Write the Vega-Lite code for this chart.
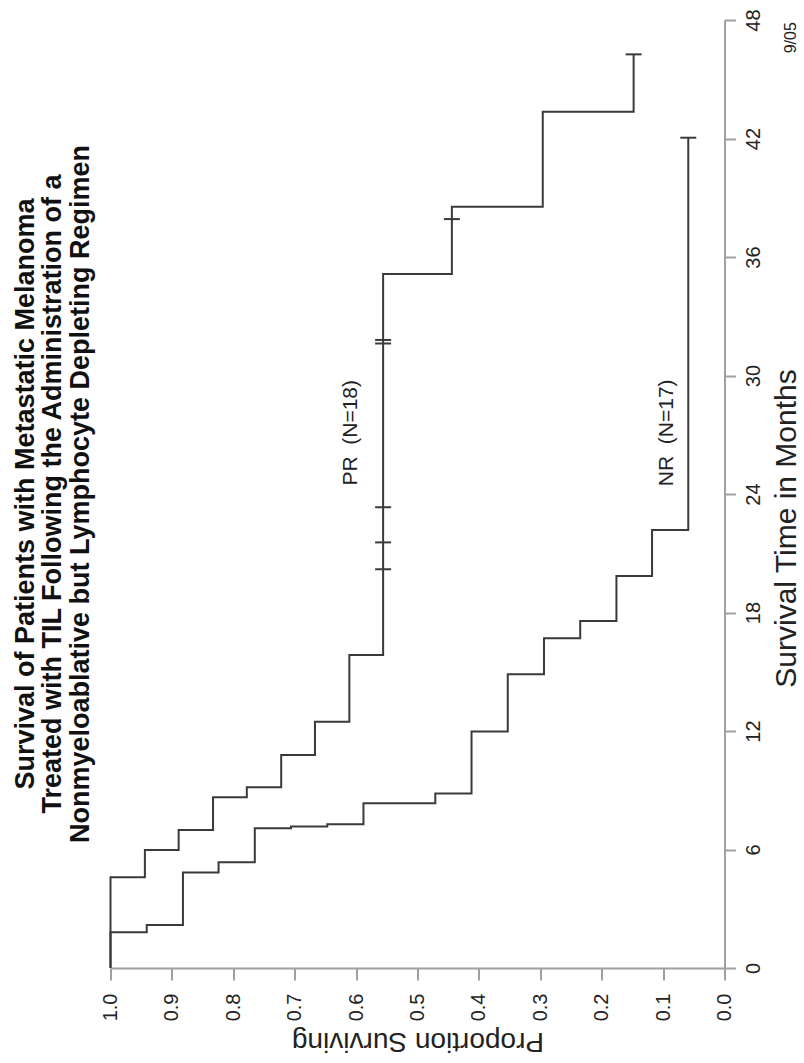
{
  "$schema": "https://vega.github.io/schema/vega-lite/v6.json",
  "width": 614,
  "height": 948,
  "autosize": {"type": "none"},
  "padding": {"left": 110.5, "top": 20, "right": 79.5, "bottom": 95},
  "background": "white",
  "config": {
    "view": {"stroke": null},
    "font": "Liberation Sans",
    "axis": {"grid": false}
  },
  "title": {
    "text": [
      "Survival of Patients with Metastatic Melanoma",
      "Treated with TIL Following the Administration of a",
      "Nonmyeloablative but Lymphocyte Depleting Regimen"
    ],
    "orient": "left",
    "anchor": "middle",
    "font": "Liberation Sans",
    "fontWeight": "bold",
    "fontSize": 27,
    "lineHeight": 27.5,
    "color": "#111111",
    "offset": 6
  },
  "datasets": {
    "curves": [
      {"group": "PR", "time": 0, "surv": 1.0},
      {"group": "PR", "time": 4.59, "surv": 0.944},
      {"group": "PR", "time": 5.97, "surv": 0.889},
      {"group": "PR", "time": 6.99, "surv": 0.833},
      {"group": "PR", "time": 8.64, "surv": 0.778},
      {"group": "PR", "time": 9.15, "surv": 0.722},
      {"group": "PR", "time": 10.78, "surv": 0.667},
      {"group": "PR", "time": 12.47, "surv": 0.611},
      {"group": "PR", "time": 15.85, "surv": 0.556},
      {"group": "PR", "time": 35.14, "surv": 0.444},
      {"group": "PR", "time": 38.55, "surv": 0.296},
      {"group": "PR", "time": 43.36, "surv": 0.148},
      {"group": "PR", "time": 46.26, "surv": 0.148},
      {"group": "NR", "time": 0, "surv": 1.0},
      {"group": "NR", "time": 1.81, "surv": 0.941},
      {"group": "NR", "time": 2.18, "surv": 0.882},
      {"group": "NR", "time": 4.84, "surv": 0.824},
      {"group": "NR", "time": 5.35, "surv": 0.765},
      {"group": "NR", "time": 7.07, "surv": 0.706},
      {"group": "NR", "time": 7.16, "surv": 0.647},
      {"group": "NR", "time": 7.28, "surv": 0.588},
      {"group": "NR", "time": 8.34, "surv": 0.471},
      {"group": "NR", "time": 8.84, "surv": 0.412},
      {"group": "NR", "time": 11.97, "surv": 0.353},
      {"group": "NR", "time": 14.87, "surv": 0.294},
      {"group": "NR", "time": 16.69, "surv": 0.235},
      {"group": "NR", "time": 17.57, "surv": 0.176},
      {"group": "NR", "time": 19.85, "surv": 0.118},
      {"group": "NR", "time": 22.18, "surv": 0.059},
      {"group": "NR", "time": 42.04, "surv": 0.059}
    ],
    "censor": [
      {"group": "PR", "time": 20.19, "surv": 0.556},
      {"group": "PR", "time": 21.55, "surv": 0.556},
      {"group": "PR", "time": 23.33, "surv": 0.556},
      {"group": "PR", "time": 31.62, "surv": 0.556},
      {"group": "PR", "time": 31.8, "surv": 0.556},
      {"group": "PR", "time": 37.92, "surv": 0.444},
      {"group": "PR", "time": 46.26, "surv": 0.148},
      {"group": "NR", "time": 42.04, "surv": 0.059}
    ],
    "labels": [
      {"label": "PR \u00a0(N=18)", "time": 27.1, "surv": 0.609},
      {"label": "NR \u00a0(N=17)", "time": 27.1, "surv": 0.0935}
    ],
    "note": [
      {"label": "9/05", "time": 47.1, "surv": -0.108}
    ]
  },
  "encoding": {
    "x": {
      "field": "surv",
      "type": "quantitative",
      "scale": {"domain": [0, 1], "reverse": true, "nice": false, "zero": false},
      "axis": {
        "orient": "bottom",
        "title": "Proportion Surviving",
        "values": [0, 0.1, 0.2, 0.3, 0.4, 0.5, 0.6, 0.7, 0.8, 0.9, 1.0],
        "format": ".1f",
        "labelAngle": 270,
        "labelAlign": "right",
        "labelBaseline": "middle",
        "labelPadding": 13,
        "labelFontSize": 20,
        "labelFont": "Liberation Sans",
        "labelColor": "#222222",
        "labelFlush": false,
        "labelOverlap": false,
        "tickSize": 12,
        "tickWidth": 2,
        "tickColor": "#a0a0a0",
        "domainColor": "#a0a0a0",
        "domainWidth": 2,
        "titleAngle": 180,
        "titleBaseline": "bottom",
        "titleAlign": "center",
        "titleFont": "Liberation Sans",
        "titleFontSize": 28,
        "titleFontWeight": "normal",
        "titleColor": "#222222",
        "titlePadding": 6
      }
    },
    "y": {
      "field": "time",
      "type": "quantitative",
      "scale": {"domain": [0, 48], "nice": false},
      "axis": {
        "orient": "right",
        "title": "Survival Time in Months",
        "values": [0, 6, 12, 18, 24, 30, 36, 42, 48],
        "labelAngle": 270,
        "labelAlign": "center",
        "labelBaseline": "top",
        "labelPadding": 8,
        "labelFontSize": 20,
        "labelFont": "Liberation Sans",
        "labelColor": "#222222",
        "labelFlush": false,
        "labelOverlap": false,
        "tickSize": 11,
        "tickWidth": 2,
        "tickColor": "#a0a0a0",
        "domainColor": "#a0a0a0",
        "domainWidth": 2,
        "titleAngle": 270,
        "titleBaseline": "top",
        "titleAlign": "center",
        "titleFont": "Liberation Sans",
        "titleFontSize": 30,
        "titleFontWeight": "normal",
        "titleColor": "#222222",
        "titlePadding": 8,
        "titleY": 508
      }
    }
  },
  "layer": [
    {
      "data": {"name": "curves"},
      "mark": {"type": "line", "interpolate": "step-before", "color": "#3a3a3a", "strokeWidth": 2},
      "encoding": {
        "detail": {"field": "group"},
        "order": {"field": "time", "type": "quantitative"}
      }
    },
    {
      "data": {"name": "censor"},
      "mark": {"type": "tick", "orient": "horizontal", "size": 16, "thickness": 2, "color": "#3a3a3a", "opacity": 1}
    },
    {
      "data": {"name": "labels"},
      "mark": {"type": "text", "angle": 270, "align": "center", "baseline": "middle", "font": "Liberation Sans", "fontSize": 21, "color": "#222222"},
      "encoding": {"text": {"field": "label"}}
    },
    {
      "data": {"name": "note"},
      "mark": {"type": "text", "angle": 270, "align": "center", "baseline": "middle", "font": "Liberation Sans", "fontSize": 16, "color": "#222222"},
      "encoding": {"text": {"field": "label"}}
    }
  ]
}
